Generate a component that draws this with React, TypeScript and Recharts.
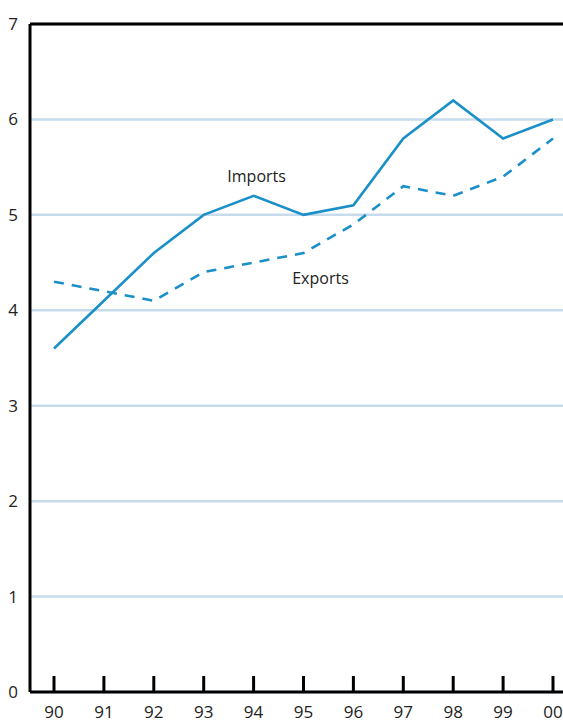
import React from 'react';
import {
  LineChart,
  Line,
  CartesianGrid,
  XAxis,
  YAxis,
  ReferenceLine,
  LabelList
} from 'recharts';

const years = ['90', '91', '92', '93', '94', '95', '96', '97', '98', '99', '00'];
const imports = [3.6, 4.1, 4.6, 5.0, 5.2, 5.0, 5.1, 5.8, 6.2, 5.8, 6.0];
const exports = [4.3, 4.2, 4.1, 4.4, 4.5, 4.6, 4.9, 5.3, 5.2, 5.4, 5.8];
const yTicks = [0, 1, 2, 3, 4, 5, 6, 7];

const data = years.map((year, i) => ({
  year,
  imports: imports[i],
  exports: exports[i]
}));

const LINE_COLOR = '#1b8fc8';
const FONT = '"Open Sans", "Noto Sans", sans-serif';

// ticks point up from the axis, label sits below
const XTick = (props: any) => {
  const { x, y, payload } = props;
  return (
    <g>
      <line x1={x} x2={x} y1={y - 16} y2={y} stroke="#000" strokeWidth={3} />
      <text x={x} y={y + 26} textAnchor="middle" fontSize={17} fill="#222" fontFamily={FONT}>
        {payload.value}
      </text>
    </g>
  );
};

const seriesLabel = (text: string, index: number, dx: number, dy: number) => (props: any) => {
  if (props.index !== index) return null;
  return (
    <text
      x={props.x + dx}
      y={props.y + dy}
      textAnchor="middle"
      fontSize={16}
      fill="#222"
      fontFamily={FONT}
    >
      {text}
    </text>
  );
};

const App = () => {
  return (
    <div style={{ position: 'absolute', left: 0, top: 0 }}>
      <LineChart
        width={563}
        height={724}
        data={data}
        margin={{ top: 24, right: 0, left: 0, bottom: 0 }}
      >
        <CartesianGrid vertical={false} stroke="#c6dcec" strokeWidth={2.5} />
        <XAxis
          dataKey="year"
          height={32}
          padding={{ left: 24, right: 10 }}
          axisLine={{ stroke: '#000', strokeWidth: 3 }}
          tickLine={false}
          tickSize={0}
          tickMargin={0}
          tick={<XTick />}
          interval={0}
        />
        <YAxis
          width={30}
          domain={[0, 7]}
          ticks={yTicks}
          axisLine={{ stroke: '#000', strokeWidth: 3 }}
          tickLine={false}
          tick={{ fontSize: 17, fill: '#222', fontFamily: FONT }}
          tickMargin={6}
        />
        <ReferenceLine y={7} stroke="#000" strokeWidth={3} />
        <Line
          dataKey="imports"
          type="linear"
          stroke={LINE_COLOR}
          strokeWidth={2.6}
          dot={false}
          isAnimationActive={false}
        >
          <LabelList content={seriesLabel('Imports', 4, 3, -14)} />
        </Line>
        <Line
          dataKey="exports"
          type="linear"
          stroke={LINE_COLOR}
          strokeWidth={2.6}
          strokeDasharray="10 8"
          dot={false}
          isAnimationActive={false}
        >
          <LabelList content={seriesLabel('Exports', 5, 17, 31)} />
        </Line>
      </LineChart>
    </div>
  );
};

export default App;
